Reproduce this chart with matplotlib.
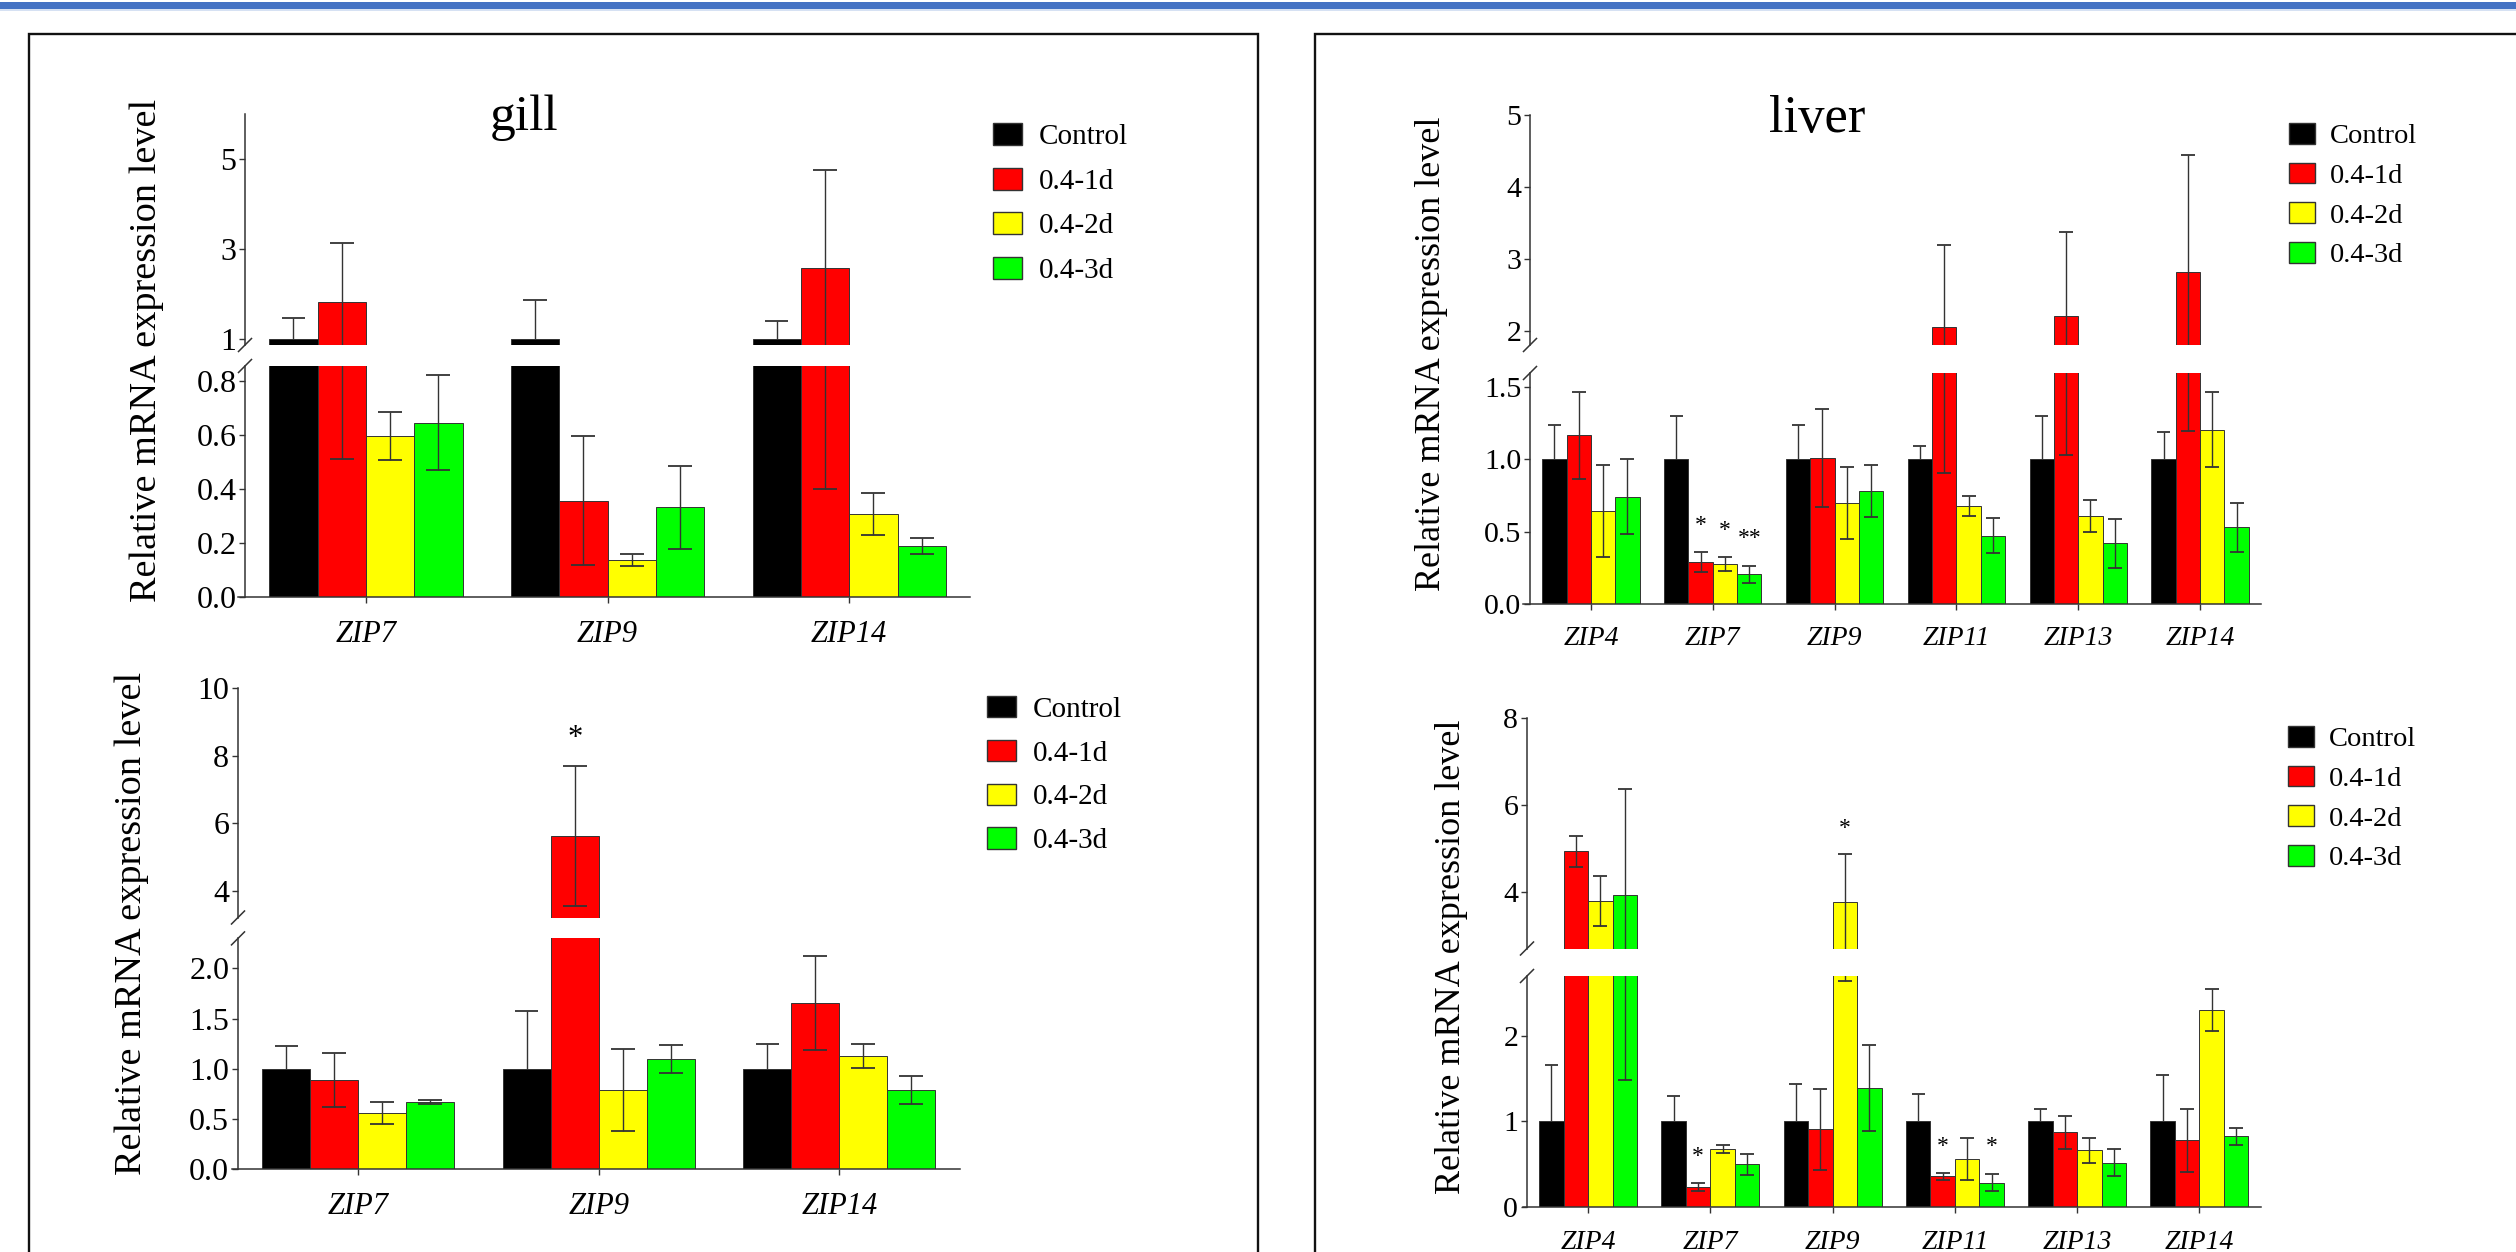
import numpy as np
import matplotlib
matplotlib.use('Agg')
import matplotlib.pyplot as plt
from matplotlib.patches import Rectangle, Patch
from matplotlib.lines import Line2D

plt.rcParams['font.family'] = 'Liberation Serif'

W, H = 2516, 1252

#### groups and colours ####
groups = ['Control', '0.4-1d', '0.4-2d', '0.4-3d']
colors = ['#000000', '#ff0000', '#ffff00', '#00ff00']

#### gill ####
gill_genes = ['ZIP7', 'ZIP9', 'ZIP14']
gill1_mean = [[1.0, 1.0, 1.0],
              [1.82, 0.357, 2.58],
              [0.597, 0.138, 0.308],
              [0.646, 0.332, 0.188]]
gill1_sd = [[0.46, 0.86, 0.41],
            [1.31, 0.24, 2.18],
            [0.09, 0.022, 0.077],
            [0.175, 0.155, 0.03]]
gill1_stars = []

gill2_mean = [[1.0, 1.0, 1.0],
              [0.887, 5.62, 1.657],
              [0.56, 0.786, 1.129],
              [0.669, 1.097, 0.79]]
gill2_sd = [[0.226, 0.573, 0.242],
            [0.266, 2.07, 0.47],
            [0.11, 0.41, 0.12],
            [0.02, 0.14, 0.14]]
gill2_stars = [(1, 1, '*', 8.5)]

#### liver ####
liver_genes = ['ZIP4', 'ZIP7', 'ZIP9', 'ZIP11', 'ZIP13', 'ZIP14']
liver1_mean = [[1.0, 1.0, 1.0, 1.0, 1.0, 1.0],
               [1.167, 0.287, 1.011, 2.046, 2.20, 2.817],
               [0.644, 0.276, 0.698, 0.678, 0.606, 1.207],
               [0.741, 0.204, 0.784, 0.471, 0.417, 0.529]]
liver1_sd = [[0.238, 0.305, 0.241, 0.095, 0.30, 0.192],
             [0.30, 0.07, 0.34, 1.14, 1.17, 1.62],
             [0.32, 0.05, 0.25, 0.07, 0.11, 0.26],
             [0.26, 0.06, 0.18, 0.12, 0.17, 0.17]]
liver1_stars = [(1, 1, '*', 0.54), (1, 2, '*', 0.51), (1, 3, '**', 0.45)]

liver2_mean = [[1.0, 1.0, 1.0, 1.0, 1.0, 1.0],
               [4.935, 0.236, 0.906, 0.358, 0.873, 0.778],
               [3.787, 0.679, 3.76, 0.557, 0.665, 2.30],
               [3.926, 0.50, 1.392, 0.283, 0.519, 0.825]]
liver2_sd = [[0.656, 0.30, 0.443, 0.316, 0.146, 0.538],
             [0.36, 0.05, 0.47, 0.04, 0.19, 0.37],
             [0.58, 0.05, 1.12, 0.245, 0.145, 0.245],
             [2.44, 0.125, 0.50, 0.10, 0.16, 0.10]]
liver2_stars = [(1, 1, '*', 0.594), (2, 2, '*', 5.46), (3, 1, '*', 0.712), (3, 3, '*', 0.712)]

LC = '#333333'

fig = plt.figure(figsize=(W / 100, H / 100), dpi=100)


def frac(x0, y0, x1, y1):
    # pixel box (y from top) -> figure fraction
    return [x0 / W, 1 - y1 / H, (x1 - x0) / W, (y1 - y0) / H]


def panel(genes, mean, sd, stars, x0, yx, x1, up, low, lim_up, lim_low,
          ticks_up, ticks_low, lab_low, fs_tick, fs_x, capsize, star_fs):
    n = len(genes)
    sp = (x1 - yx) / n
    xl = (-0.5 - (yx - x0) / sp, n - 0.5)
    capw = capsize / 0.72 / sp   # half cap width in data units
    axu = fig.add_axes(frac(x0, up[0], x1, up[1]))
    axl = fig.add_axes(frac(x0, low[0], x1, low[1]))
    for ax in (axu, axl):
        for i in range(4):
            xs = np.arange(n) + (i - 1.5) * 0.2
            m = np.array(mean[i])
            s = np.array(sd[i])
            ax.bar(xs, m, 0.2, color=colors[i], edgecolor=LC,
                   linewidth=0.7, zorder=2)
            if i == 0:
                # control: only the upper half of the error bar
                ax.vlines(xs, m, m + s, color=LC, lw=1.0, zorder=3)
                ax.hlines(m + s, xs - capw, xs + capw, color=LC, lw=1.3, zorder=3)
            else:
                ax.errorbar(xs, m, yerr=s, fmt='none', ecolor=LC,
                            elinewidth=1.0, capsize=capsize, capthick=1.3, zorder=3)
        ax.set_xlim(*xl)
        ax.patch.set_alpha(0)
        ax.spines['top'].set_visible(False)
        ax.spines['right'].set_visible(False)
        ax.spines['left'].set_position(('data', -0.5))
        for sp_name in ('left', 'bottom'):
            ax.spines[sp_name].set_color(LC)
            ax.spines[sp_name].set_linewidth(1.1)
        ax.tick_params(axis='y', direction='out', length=4.3, width=1.0,
                       color=LC, labelsize=fs_tick, pad=2)
    axu.set_ylim(*lim_up)
    axu.set_yticks(ticks_up)
    axu.set_yticklabels([str(t) for t in ticks_up])
    axu.spines['bottom'].set_visible(False)
    axu.set_xticks([])
    axl.set_ylim(*lim_low)
    axl.set_yticks(ticks_low)
    axl.set_yticklabels(lab_low)
    axl.set_xticks(np.arange(n))
    axl.set_xticklabels(genes, fontstyle='italic', fontsize=fs_x)
    axl.tick_params(axis='x', direction='out', length=4.3, width=1.0,
                    color=LC, pad=12)
    for g, i, lab, v in stars:
        ax = axu if v > lim_low[1] else axl
        ax.text(g + (i - 1.5) * 0.2, v, lab, ha='center', va='center',
                fontsize=star_fs)
    # break marks on the y axis
    for yb in (up[1], low[0]):
        fig.add_artist(Line2D([(yx - 6.5) / W, (yx + 6.5) / W],
                              [1 - (yb + 6.5) / H, 1 - (yb - 6.5) / H],
                              color=LC, lw=1.1, transform=fig.transFigure))
    return axu, axl


def legend(x, ytop, fs, hl, hh, pad, spacing):
    hs = [Patch(facecolor=c, edgecolor=LC, linewidth=1.0) for c in colors]
    fig.legend(hs, groups, loc='upper left', bbox_to_anchor=(x / W, 1 - ytop / H),
               frameon=False, fontsize=fs, handlelength=hl, handleheight=hh,
               handletextpad=pad, labelspacing=spacing, borderpad=0,
               borderaxespad=0)


# gill, top chart
panel(gill_genes, gill1_mean, gill1_sd, gill1_stars, 238, 245, 970,
      (114, 345), (366, 597), (0.87, 6.0), (0, 0.856),
      [1, 3, 5], [0, 0.2, 0.4, 0.6, 0.8], ['0.0', '0.2', '0.4', '0.6', '0.8'],
      23, 22, 8.3, 22)
fig.text(524 / W, 1 - 130 / H, 'gill', ha='center', va='baseline', fontsize=37)
fig.text(147 / W, 1 - 350 / H, 'Relative mRNA expression level', rotation=90,
         ha='center', va='center', fontsize=27.5)
legend(993, 123, 21, 1.0, 0.78, 0.58, 0.6)

# gill, bottom chart
panel(gill_genes, gill2_mean, gill2_sd, gill2_stars, 232, 238, 959.5,
      (688, 917.5), (938.4, 1169), (3.22, 10), (0, 2.30),
      [4, 6, 8, 10], [0, 0.5, 1.0, 1.5, 2.0], ['0.0', '0.5', '1.0', '1.5', '2.0'],
      23, 22, 8.3, 22)
fig.text(132 / W, 1 - 923 / H, 'Relative mRNA expression level', rotation=90,
         ha='center', va='center', fontsize=27.5)
legend(987, 696, 21, 1.0, 0.75, 0.58, 0.58)

# liver, top chart
panel(liver_genes, liver1_mean, liver1_sd, liver1_stars, 1523, 1530, 2261,
      (114.8, 345), (373, 603.6), (1.80, 5.0), (0, 1.6),
      [2, 3, 4, 5], [0, 0.5, 1.0, 1.5], ['0.0', '0.5', '1.0', '1.5'],
      21.5, 20, 4.7, 17)
fig.text(1817 / W, 1 - 132 / H, 'liver', ha='center', va='baseline', fontsize=38)
fig.text(1432 / W, 1 - 354 / H, 'Relative mRNA expression level', rotation=90,
         ha='center', va='center', fontsize=26)
legend(2289, 123, 20.5, 0.91, 0.74, 0.53, 0.47)

# liver, bottom chart
panel(liver_genes, liver2_mean, liver2_sd, liver2_stars, 1523, 1527, 2260.5,
      (718, 948.5), (976, 1207), (2.70, 8), (0, 2.70),
      [4, 6, 8], [0, 1, 2], ['0', '1', '2'],
      21.5, 20, 4.7, 17)
fig.text(1452 / W, 1 - 957 / H, 'Relative mRNA expression level', rotation=90,
         ha='center', va='center', fontsize=26)
legend(2288, 726, 20.5, 0.91, 0.74, 0.53, 0.47)

# frames and top band
fig.add_artist(Rectangle((28.5 / W, -0.05), (1258 - 28.5) / W, 1 - 34 / H + 0.05,
                         fill=False, ec='#111111', lw=1.7, transform=fig.transFigure))
fig.add_artist(Rectangle((1315 / W, -0.05), 1.1 - 1315 / W, 1 - 34 / H + 0.05,
                         fill=False, ec='#111111', lw=1.7, transform=fig.transFigure))
fig.add_artist(Rectangle((0, 1 - 11 / H), 1, 2 / H, color='#d6e1f3', lw=0,
                         transform=fig.transFigure))
fig.add_artist(Rectangle((0, 1 - 9 / H), 1, 7 / H, color='#4472c4', lw=0,
                         transform=fig.transFigure))

fig.savefig('out.png', dpi=100)
